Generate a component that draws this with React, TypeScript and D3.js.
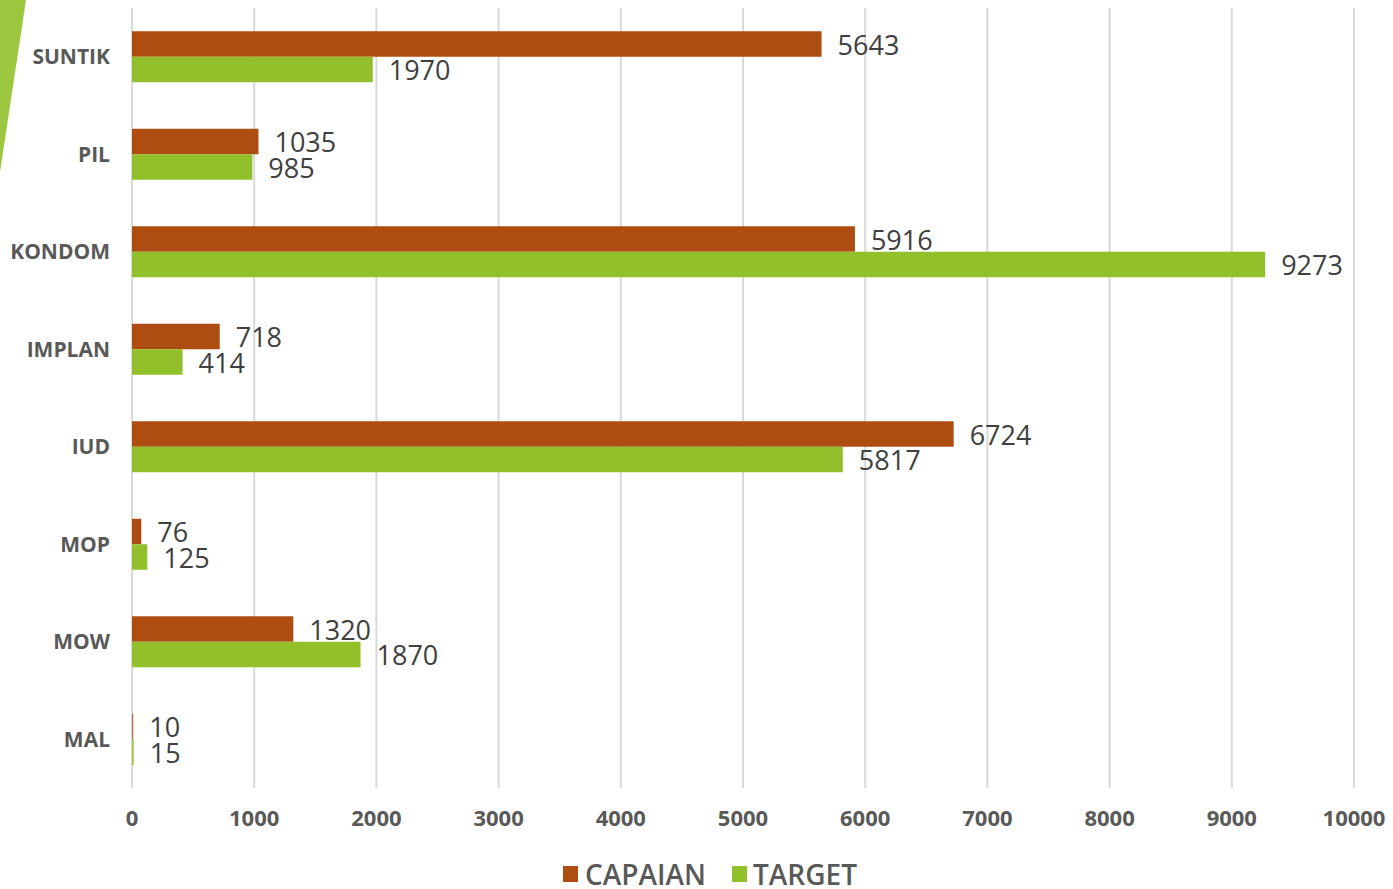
import React from "react";
import * as d3 from "d3";

const categories = ["SUNTIK", "PIL", "KONDOM", "IMPLAN", "IUD", "MOP", "MOW", "MAL"];
const capaian = [5643, 1035, 5916, 718, 6724, 76, 1320, 10];
const target = [1970, 985, 9273, 414, 5817, 125, 1870, 15];
const seriesNames = ["CAPAIAN", "TARGET"];
const seriesColors = ["#AE4D12", "#92C02A"];
const xTicks = [0, 1000, 2000, 3000, 4000, 5000, 6000, 7000, 8000, 9000, 10000];

const W = 1393;
const H = 889;

export default function App() {
  const x = d3.scaleLinear().domain([0, 10000]).range([132, 1354]);
  const y = d3
    .scaleBand<string>()
    .domain(categories)
    .range([8, 788])
    .paddingInner(0.477)
    .paddingOuter(0.2385);
  const inner = d3.scaleBand<string>().domain(seriesNames).range([0, y.bandwidth()]);
  const seriesValues = [capaian, target];
  const textColor = "#595959";
  const valueFont = "'Open Sans', sans-serif";

  return (
    <svg
      width={W}
      height={H}
      style={{ position: "absolute", left: 0, top: 0, display: "block", background: "#fff" }}
    >
      <polygon points="0,0 26,0 0,172" fill="#9BC83F" />
      {xTicks.map((t) => (
        <line key={t} x1={x(t)} x2={x(t)} y1={8} y2={788} stroke="#D9D9D9" strokeWidth={2} />
      ))}
      {categories.map((c, i) => (
        <g key={c}>
          {seriesNames.map((s, j) => {
            const v = seriesValues[j][i];
            const y0 = (y(c) as number) + (inner(s) as number);
            return (
              <g key={s}>
                <rect
                  x={x(0)}
                  y={y0}
                  width={Math.max(x(v) - x(0), 1)}
                  height={inner.bandwidth()}
                  fill={seriesColors[j]}
                  opacity={v < 20 ? 0.8 : 1}
                />
                <text
                  x={x(v) + 16}
                  y={y0 + inner.bandwidth() / 2 + 1}
                  dy="0.36em"
                  fontFamily={valueFont}
                  fontSize={27}
                  fill="#404040"
                >
                  {v}
                </text>
              </g>
            );
          })}
          <text
            x={110}
            y={(y(c) as number) + y.bandwidth() / 2}
            dy="0.36em"
            textAnchor="end"
            fontFamily="'Open Sans', sans-serif"
            fontWeight={700}
            fontSize={21}
            fill={textColor}
          >
            {c}
          </text>
        </g>
      ))}
      {xTicks.map((t) => (
        <text
          key={"l" + t}
          x={x(t)}
          y={818}
          dy="0.36em"
          textAnchor="middle"
          fontFamily="'Open Sans', sans-serif"
          fontWeight={700}
          fontSize={22}
          fill={textColor}
        >
          {t}
        </text>
      ))}
      <g>
        <rect x={563} y={866} width={15} height={16} fill={seriesColors[0]} />
        <text x={585} y={875} dy="0.36em" fontFamily="'Open Sans', sans-serif" fontWeight={600} fontSize={28} fill={textColor}>
          {seriesNames[0]}
        </text>
        <rect x={732} y={866} width={15} height={16} fill={seriesColors[1]} />
        <text x={753} y={875} dy="0.36em" fontFamily="'Open Sans', sans-serif" fontWeight={600} fontSize={28} fill={textColor}>
          {seriesNames[1]}
        </text>
      </g>
    </svg>
  );
}
